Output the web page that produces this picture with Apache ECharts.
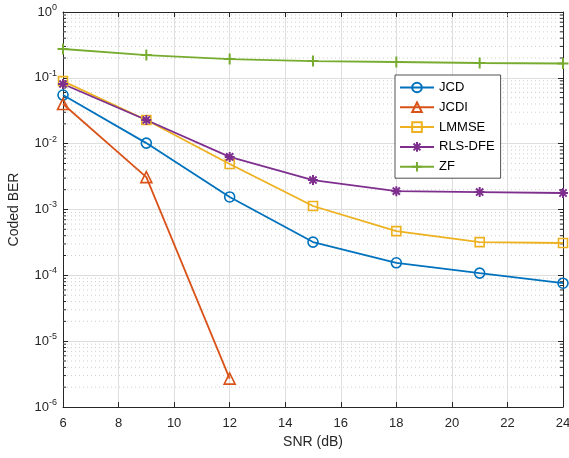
<!DOCTYPE html>
<html><head><meta charset="utf-8">
<script src="https://cdn.jsdelivr.net/npm/echarts@6/dist/echarts.min.js"></script>
<style>html,body{margin:0;padding:0;background:#fff}#c{width:569px;height:458px}</style>
</head><body><div id="c"></div>
<script>
var snr = [6, 9, 12, 15, 18, 21, 24];
var jcd = [0.0548, 0.0102, 0.00155, 3.2e-4, 1.55e-4, 1.08e-4, 7.6e-5];
var jcdiX = [6, 9, 12];
var jcdi = [0.040, 0.0031, 2.7e-6];
var lmmse = [0.089, 0.0229, 0.0049, 1.13e-3, 4.7e-4, 3.2e-4, 3.1e-4];
var rlsdfe = [0.0805, 0.0229, 6.3e-3, 2.8e-3, 1.9e-3, 1.84e-3, 1.78e-3];
var zf = [0.274, 0.222, 0.193, 0.18, 0.174, 0.168, 0.165];
var xTicks = [6, 8, 10, 12, 14, 16, 18, 20, 22, 24];
var yTicks = [1e-6, 1e-5, 1e-4, 1e-3, 1e-2, 1e-1, 1];

var minorVals = [];
for (var e = -6; e < 0; e++) for (var m = 2; m <= 9; m++) minorVals.push(m * Math.pow(10, e));

var FONT = "'Liberation Sans', Arial, Helvetica, sans-serif";
var AX = '#262626';
var colors = ['#0072BD', '#D95319', '#EDB120', '#7E2F8E', '#77AC30'];
function pair(xs, ys) { return xs.map(function (x, i) { return [x, ys[i]]; }); }

function mk(name, xs, ys, c, symbol, size, filled) {
  return {
    name: name, type: 'line', data: pair(xs, ys), color: c,
    symbol: symbol, symbolSize: size, showAllSymbol: true,
    lineStyle: { color: c, width: 1.8 },
    itemStyle: { color: filled ? c : 'rgba(255,255,255,0)', borderColor: c, borderWidth: filled ? 2 : 1.6 },
    emphasis: { disabled: true }, z: 5
  };
}
var asterisk = 'path://M0,-5L0,5M-5,0L5,0M-3.6,-3.6L3.6,3.6M-3.6,3.6L3.6,-3.6';
var plus = 'path://M0,-5L0,5M-5,0L5,0';

var chart = echarts.init(document.getElementById('c'), null, { renderer: 'canvas' });
chart.setOption({
  backgroundColor: '#fff',
  animation: false,
  textStyle: { fontFamily: FONT },
  grid: { left: 63, right: 6, top: 12, bottom: 51, containLabel: false, outerBoundsMode: 'none' },
  legend: {
    left: 395, top: 75,
    orient: 'vertical', itemWidth: 34, itemHeight: 12, itemGap: 6.8,
    padding: [6, 6, 5, 4],
    backgroundColor: '#fff', borderColor: AX, borderWidth: 0.8,
    textStyle: { fontSize: 13, lineHeight: 12, color: '#000', fontFamily: FONT },
    data: ['JCD', 'JCDI', 'LMMSE', 'RLS-DFE', 'ZF']
  },
  xAxis: [{
    type: 'value', min: 6, max: 24, interval: 2,
    name: 'SNR (dB)', nameLocation: 'middle', nameGap: 27,
    nameTextStyle: { fontSize: 14, color: AX, fontFamily: FONT },
    axisLine: { lineStyle: { color: AX, width: 1 } },
    axisTick: { inside: true, length: 5, lineStyle: { color: AX } },
    axisLabel: { fontSize: 13, color: AX, margin: 10, fontFamily: FONT },
    splitLine: { show: true, lineStyle: { color: '#dedede', width: 1 } }
  }, {
    type: 'value', min: 6, max: 24, interval: 2, position: 'top',
    axisLine: { lineStyle: { color: AX, width: 1 } },
    axisTick: { inside: true, length: 5, lineStyle: { color: AX } },
    axisLabel: { show: false }, splitLine: { show: false }
  }],
  yAxis: [{
    type: 'log', min: 1e-6, max: 1, logBase: 10,
    name: 'Coded BER', nameLocation: 'middle', nameGap: 42,
    nameTextStyle: { fontSize: 14, color: AX, fontFamily: FONT },
    axisLine: { lineStyle: { color: AX, width: 1 } },
    axisTick: { inside: true, length: 5, lineStyle: { color: AX } },
    axisLabel: {
      margin: 6, color: AX,
      formatter: function (v) {
        var ex = Math.round(Math.log10(v));
        return '{b|10}{s|' + ex + '}';
      },
      rich: {
        b: { fontSize: 13, color: AX, fontFamily: FONT },
        s: { fontSize: 9, color: AX, fontFamily: FONT, padding: [0, 0, 9, 0] }
      }
    },
    splitLine: { show: true, lineStyle: { color: '#dedede', width: 1 } }
  }, {
    type: 'log', min: 1e-6, max: 1, logBase: 10, position: 'right',
    axisLine: { lineStyle: { color: AX, width: 1 } },
    axisTick: { inside: true, length: 5, lineStyle: { color: AX } },
    axisLabel: { show: false }, splitLine: { show: false }
  }],
  series: [
    {
      type: 'custom', name: 'minor', silent: true, z: 1,
      xAxisIndex: 0, yAxisIndex: 0,
      data: minorVals.map(function (v) { return [6, v]; }),
      encode: { x: 0, y: 1 },
      clip: false,
      renderItem: function (params, api) {
        var v = api.value(1);
        var p1 = api.coord([6, v]), p2 = api.coord([24, v]);
        return {
          type: 'group', children: [
            { type: 'line', shape: { x1: p1[0], y1: p1[1], x2: p2[0], y2: p2[1] },
              style: { stroke: '#cfcfcf', lineWidth: 1, lineDash: [1, 3] } },
            { type: 'line', shape: { x1: p1[0], y1: p1[1], x2: p1[0] + 3, y2: p1[1] },
              style: { stroke: AX, lineWidth: 1 } },
            { type: 'line', shape: { x1: p2[0], y1: p2[1], x2: p2[0] - 3, y2: p2[1] },
              style: { stroke: AX, lineWidth: 1 } }
          ]
        };
      }
    },
    mk('JCD', snr, jcd, colors[0], 'circle', 10, false),
    mk('JCDI', jcdiX, jcdi, colors[1], 'triangle', 11, false),
    mk('LMMSE', snr, lmmse, colors[2], 'rect', 9, false),
    mk('RLS-DFE', snr, rlsdfe, colors[3], asterisk, 10, true),
    mk('ZF', snr, zf, colors[4], plus, 11, true)
  ]
});
</script></body></html>
